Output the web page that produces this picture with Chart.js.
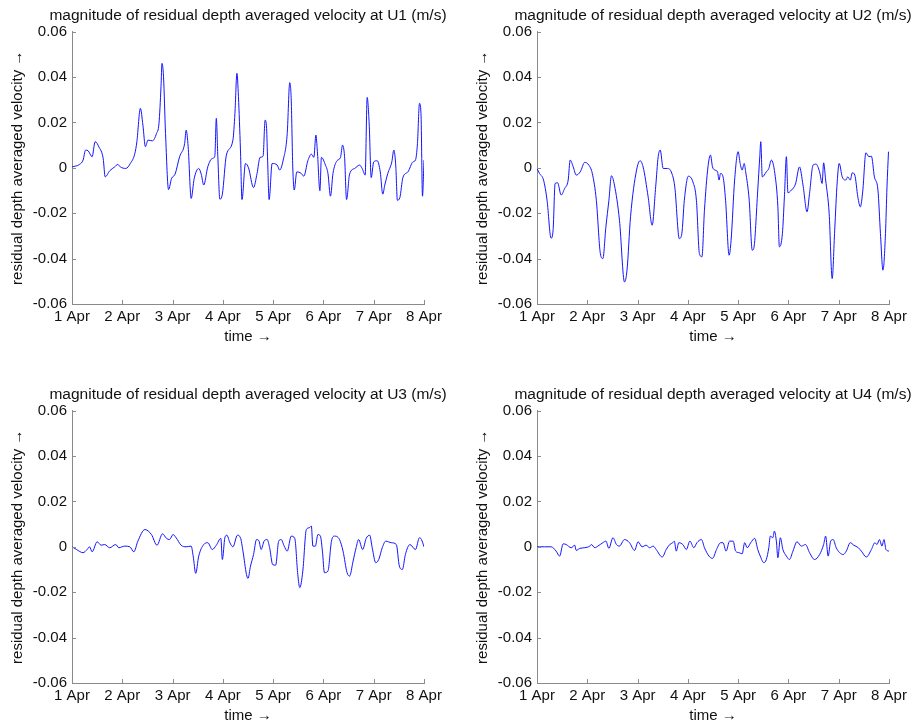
<!DOCTYPE html>
<html>
<head>
<meta charset="utf-8">
<script src="https://cdn.jsdelivr.net/npm/chart.js@4.4.1/dist/chart.umd.min.js"></script>
<style>
  html, body { margin: 0; padding: 0; background: #fff; overflow: hidden; width: 912px; height: 725px; }
  .panel { position: absolute; width: 496px; height: 350px; }
</style>
</head>
<body>
<div class="panel" style="left:0;top:0"><canvas id="u1" width="496" height="350"></canvas></div>
<div class="panel" style="left:465px;top:0"><canvas id="u2" width="496" height="350"></canvas></div>
<div class="panel" style="left:0;top:379px"><canvas id="u3" width="496" height="350"></canvas></div>
<div class="panel" style="left:465px;top:379px"><canvas id="u4" width="496" height="350"></canvas></div>
<script>
// tick labels
const dayLabels = ['1 Apr', '2 Apr', '3 Apr', '4 Apr', '5 Apr', '6 Apr', '7 Apr', '8 Apr'];
const yTickLabels = ['-0.06', '-0.04', '-0.02', '0', '0.02', '0.04', '0.06'];

// time in days since 1 Apr, residual velocity in m/s
const u1Days = [0,0.15,0.22,0.27,0.32,0.40,0.46,0.54,0.62,0.66,0.75,0.85,0.91,0.96,1.07,1.16,1.25,1.29,1.36,1.41,1.46,1.51,1.60,1.68,1.73,1.77,1.79,1.82,1.86,1.92,1.98,2.05,2.14,2.24,2.27,2.31,2.37,2.43,2.52,2.57,2.62,2.70,2.79,2.84,2.87,2.90,2.94,2.99,3.07,3.20,3.24,3.28,3.31,3.35,3.38,3.45,3.51,3.61,3.68,3.74,3.80,3.84,3.87,3.89,3.92,3.98,4.08,4.13,4.20,4.28,4.33,4.36,4.39,4.42,4.47,4.56,4.61,4.69,4.76,4.81,4.85,4.88,4.93,4.96,5.04,5.09,5.14,5.19,5.27,5.34,5.38,5.42,5.46,5.52,5.62,5.72,5.77,5.83,5.87,5.91,5.95,6.00,6.07,6.13,6.18,6.22,6.28,6.36,6.40,6.44,6.47,6.52,6.58,6.68,6.78,6.83,6.87,6.91,6.94,6.97,7.00];
const u1Vals = [0.0004,0.0015,0.0034,0.0078,0.0075,0.0049,0.0115,0.009,0.0041,-0.004,-0.0013,0.0004,0.0015,0.0004,-0.0003,0.0019,0.0063,0.0115,0.0262,0.0188,0.0093,0.0122,0.0119,0.0151,0.0196,0.0357,0.046,0.0401,0.0151,-0.0096,-0.0047,-0.0028,0.0049,0.0107,0.0166,0.0093,-0.0135,-0.0047,-0.0003,-0.0028,-0.0076,0.0004,0.0041,0.0051,0.0218,0.0049,-0.0138,-0.0116,0.0056,0.0122,0.024,0.0416,0.0313,0.0078,-0.014,0.0019,0.0,-0.0087,-0.0025,0.0046,0.0051,0.021,0.0173,0.0034,-0.014,0.0019,0.0012,-0.001,0.0034,0.0151,0.0375,0.0298,0.0004,-0.0098,-0.0018,-0.0025,-0.0037,0.0031,0.006,0.0046,0.0144,0.0071,-0.0101,0.0046,0.0012,-0.0025,-0.0125,-0.0025,0.0031,0.0046,0.01,0.0049,-0.014,-0.0028,-0.0003,0.0012,-0.0003,-0.0032,0.031,0.0193,-0.0043,0.0026,0.0031,-0.0018,-0.0116,-0.0076,-0.0025,0.0026,0.0078,0.0004,-0.0143,-0.0131,-0.0043,-0.0018,0.0026,0.0034,0.0107,0.0284,0.024,-0.0125,0.0034];

const u2Days = [0,0.05,0.13,0.20,0.28,0.32,0.36,0.41,0.48,0.55,0.62,0.66,0.72,0.78,0.86,0.95,1.03,1.10,1.18,1.26,1.31,1.37,1.43,1.48,1.54,1.64,1.74,1.79,1.86,1.98,2.05,2.11,2.21,2.29,2.36,2.41,2.45,2.51,2.59,2.67,2.74,2.83,2.88,2.93,3.01,3.10,3.17,3.23,3.28,3.33,3.40,3.45,3.49,3.54,3.59,3.62,3.65,3.70,3.75,3.82,3.86,3.93,4.00,4.04,4.08,4.12,4.15,4.22,4.28,4.31,4.39,4.43,4.45,4.48,4.56,4.61,4.66,4.73,4.79,4.82,4.88,4.92,4.96,4.99,5.06,5.14,5.22,5.29,5.37,5.42,5.49,5.55,5.62,5.67,5.70,5.74,5.81,5.87,5.92,5.97,6.01,6.07,6.14,6.18,6.23,6.27,6.32,6.38,6.43,6.48,6.54,6.60,6.65,6.71,6.78,6.83,6.88,6.93,6.96,6.99];
const u2Vals = [-0.0003,-0.0025,-0.0054,-0.0143,-0.031,-0.0275,-0.0069,-0.0066,-0.012,-0.0091,-0.0054,0.0034,0.0004,-0.0032,-0.0018,0.0024,0.0012,-0.0025,-0.0143,-0.0378,-0.04,-0.026,-0.0143,-0.0035,-0.0076,-0.0231,-0.0503,-0.0451,-0.0216,-0.001,0.0031,0.0004,-0.0128,-0.0253,-0.0084,0.0049,0.0078,-0.0003,-0.0003,-0.0018,-0.0084,-0.0312,-0.029,-0.0143,-0.0037,-0.0062,-0.0143,-0.0378,-0.0392,-0.0187,0.0004,0.0056,0.0004,-0.001,-0.0018,-0.0054,-0.0025,-0.004,-0.0143,-0.0385,-0.0319,-0.0054,0.0071,0.0019,-0.001,0.0019,-0.0018,-0.0143,-0.0363,-0.0356,-0.0098,0.0049,0.0115,-0.004,-0.0018,-0.0003,0.0034,-0.0025,-0.0172,-0.0348,-0.029,-0.0128,0.0049,-0.011,-0.0098,-0.0072,0.0004,-0.0076,-0.0194,-0.0113,0.0012,0.0016,-0.0018,-0.0069,0.0022,-0.0054,-0.0201,-0.0488,-0.0275,-0.0062,0.0019,-0.004,-0.0054,-0.004,-0.0054,-0.0022,-0.0032,-0.0128,-0.0172,-0.0098,0.0066,0.0049,0.0051,-0.004,-0.0098,-0.029,-0.0451,-0.029,-0.0084,0.0071];

const u3Days = [0,0.09,0.22,0.30,0.35,0.40,0.50,0.58,0.65,0.75,0.87,0.93,1.05,1.15,1.23,1.31,1.45,1.58,1.69,1.80,1.88,1.94,2.01,2.07,2.17,2.27,2.37,2.41,2.46,2.52,2.62,2.70,2.79,2.87,2.96,2.99,3.04,3.08,3.14,3.20,3.29,3.35,3.40,3.47,3.50,3.55,3.61,3.67,3.72,3.76,3.82,3.88,3.93,3.99,4.05,4.11,4.16,4.22,4.28,4.36,4.43,4.49,4.53,4.59,4.66,4.72,4.76,4.79,4.84,4.89,4.94,4.98,5.02,5.09,5.16,5.22,5.32,5.39,5.47,5.52,5.59,5.65,5.70,5.78,5.85,5.92,5.97,6.04,6.10,6.17,6.24,6.35,6.45,6.51,6.57,6.63,6.72,6.83,6.91,6.95,7.00];
const u3Vals = [0,-0.0012,-0.0026,-0.0012,0,-0.0022,0.0022,0.0007,0.001,-0.0004,0.001,-0.0004,0.0003,0,-0.0022,0.0025,0.0076,0.0054,0.0007,0.0057,0.0037,0.0032,0.0054,0.004,0.0007,0,0.0003,-0.0041,-0.0117,-0.0041,0.001,0.0018,-0.0012,0.0007,0.0037,-0.0056,0.004,0.0051,0.0018,0,0.0051,0.004,-0.0019,-0.0122,-0.0139,-0.0085,-0.0034,0.0032,0.0025,-0.0012,0.0025,0.0032,-0.0004,-0.0078,-0.0081,0.0025,0.0032,0.0003,-0.0019,0.0047,0.0037,-0.0122,-0.018,-0.0107,0.0076,0.0084,0.0091,0.0003,0.0003,0.0054,0.0047,-0.0019,-0.0114,-0.0107,0.0025,0.0047,0.0032,-0.0019,-0.0114,-0.0129,-0.0063,-0.0004,0.0032,-0.0012,0.0037,0.0051,-0.0004,-0.007,-0.0056,-0.0004,0.0025,0.0018,0.001,-0.0085,-0.01,-0.0034,0.001,-0.0012,0.004,0.0032,0];

const u4Days = [0,0.05,0.15,0.28,0.38,0.45,0.52,0.58,0.68,0.75,0.78,0.85,0.95,1.05,1.08,1.15,1.21,1.31,1.37,1.43,1.51,1.58,1.64,1.74,1.84,1.94,2.01,2.09,2.17,2.24,2.31,2.37,2.49,2.57,2.64,2.70,2.73,2.77,2.82,2.90,2.97,3.04,3.12,3.18,3.27,3.33,3.42,3.49,3.57,3.65,3.70,3.76,3.83,3.90,3.95,4.02,4.08,4.13,4.18,4.25,4.33,4.39,4.44,4.51,4.56,4.61,4.64,4.69,4.72,4.76,4.79,4.84,4.89,4.96,5.02,5.09,5.17,5.26,5.34,5.42,5.52,5.62,5.70,5.74,5.79,5.84,5.89,5.95,6.02,6.09,6.15,6.23,6.30,6.39,6.45,6.55,6.65,6.72,6.76,6.81,6.86,6.90,6.94,7.00];
const u4Vals = [0,0,0,0,-0.0019,-0.0041,0.0013,0.001,-0.0004,0.0007,-0.0016,-0.0007,-0.0004,0.0003,0.001,-0.0004,0.0003,0.0018,0.0025,-0.0007,0.004,0.001,0.0003,0.0032,0.0018,-0.0016,0.0022,0,0.0007,-0.0004,0.0003,-0.0012,-0.0045,-0.0012,0.001,0.0018,0.0025,-0.0019,0.0018,0.001,-0.0012,0.0025,-0.0004,0.0018,0.0032,-0.0004,-0.0041,-0.0051,-0.0012,0.0018,0.0018,-0.0019,0.0025,0.0025,-0.0019,-0.0026,-0.0031,0.0018,-0.0004,0.0018,0.0037,-0.0012,-0.0041,-0.007,-0.0056,-0.0004,0.0047,0.004,0.0069,0.0025,-0.0048,0.004,-0.0012,-0.0041,-0.0056,-0.0019,0.0022,0.0003,0.001,-0.0026,-0.0056,-0.0034,0.001,0.0047,-0.0041,0.0025,0.0032,-0.0004,-0.0026,-0.0034,-0.0019,0.0018,0.0007,-0.0004,-0.0019,-0.0045,-0.0012,0.0018,0.001,0.0032,0.0003,0.0032,-0.0012,-0.0019];

const axisColor = '#8a8a8a';
const textColor = '#111';
Chart.defaults.font.family = "'Liberation Sans', Arial, Helvetica, sans-serif";
Chart.defaults.color = textColor;

// small matlab-style ticks pointing into the plot
const inwardTicks = {
  id: 'inwardTicks',
  afterDraw(chart) {
    const { ctx, chartArea: a, scales: { x, y } } = chart;
    ctx.save();
    ctx.strokeStyle = axisColor;
    ctx.lineWidth = 1;
    ctx.beginPath();
    x.ticks.forEach(t => {
      const px = Math.round(x.getPixelForValue(t.value)) + 0.5;
      ctx.moveTo(px, a.bottom);
      ctx.lineTo(px, a.bottom - 4);
    });
    y.ticks.forEach(t => {
      const py = Math.round(y.getPixelForValue(t.value)) + 0.5;
      ctx.moveTo(a.left, py);
      ctx.lineTo(a.left + 4, py);
    });
    ctx.stroke();
    ctx.restore();
  }
};

function makeChart(id, station, days, vals) {
  new Chart(document.getElementById(id), {
    type: 'line',
    data: {
      datasets: [{
        data: days.map((d, i) => ({ x: d, y: vals[i] })),
        xAxisID: 'x',
        yAxisID: 'y',
        borderColor: '#1414ff',
        borderWidth: 1,
        pointRadius: 0,
        cubicInterpolationMode: 'monotone',
        fill: false
      }]
    },
    options: {
      responsive: false,
      animation: false,
      layout: { padding: 0 },
      plugins: {
        legend: { display: false },
        tooltip: { enabled: false },
        title: {
          display: true,
          text: 'magnitude of residual depth averaged velocity at ' + station + ' (m/s)',
          color: textColor,
          font: { size: 15.5, weight: 'normal' },
          padding: { top: 6, bottom: 7 }
        }
      },
      scales: {
        x: {
          type: 'linear',
          min: 0,
          max: 7,
          border: { color: axisColor, width: 1 },
          grid: { drawOnChartArea: false, drawTicks: false },
          ticks: {
            stepSize: 1,
            autoSkip: false,
            maxRotation: 0,
            padding: 4,
            color: textColor,
            font: { size: 15 },
            callback: v => dayLabels[v]
          },
          title: { display: true, text: 'time →', color: textColor, font: { size: 15 }, padding: { top: 0, bottom: 4 } },
          afterFit: s => { s.height = 46; }
        },
        y: {
          min: -0.06,
          max: 0.06,
          border: { color: axisColor, width: 1 },
          grid: { drawOnChartArea: false, drawTicks: false },
          ticks: {
            stepSize: 0.02,
            padding: 5,
            color: textColor,
            font: { size: 15 },
            callback: (v, i) => yTickLabels[i]
          },
          title: { display: true, text: 'residual depth averaged velocity →', color: textColor, font: { size: 15 }, padding: { top: 9, bottom: 0 } },
          afterFit: s => { s.width = 72; }
        },
        // empty right-hand spacer so the title centres over the plot
        spacer: {
          axis: 'y',
          position: 'right',
          min: 0,
          max: 1,
          border: { display: false },
          grid: { display: false },
          ticks: { display: false },
          afterFit: s => { s.width = 72; }
        }
      }
    },
    plugins: [inwardTicks]
  });
}

makeChart('u1', 'U1', u1Days, u1Vals);
makeChart('u2', 'U2', u2Days, u2Vals);
makeChart('u3', 'U3', u3Days, u3Vals);
makeChart('u4', 'U4', u4Days, u4Vals);
</script>
</body>
</html>
